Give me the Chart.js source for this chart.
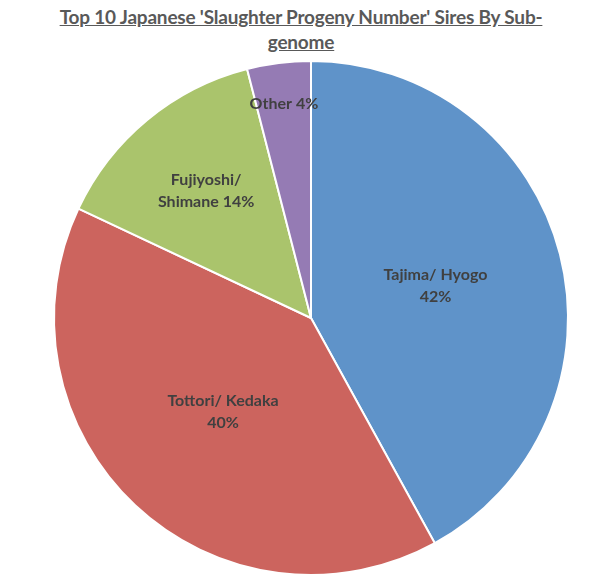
<!DOCTYPE html>
<html><head><meta charset="utf-8">
<script src="https://cdn.jsdelivr.net/npm/chart.js@4"></script>
<style>
body{margin:0;background:#fff;width:602px;height:584px;overflow:hidden;position:relative}
#t{position:absolute;top:4px;left:0;width:602px;text-align:center;font:bold 19px Lato,"Open Sans",sans-serif;color:#595959;text-decoration:underline;line-height:25px;letter-spacing:-0.2px}
#w{position:absolute;top:0;left:0;width:602px;height:584px}
</style></head><body>
<div id="t">Top 10 Japanese 'Slaughter Progeny Number' Sires By Sub-<br>genome</div>
<div id="w"><canvas id="c"></canvas></div>
<script>
const categories=["Tajima/ Hyogo","Tottori/ Kedaka","Fujiyoshi/ Shimane","Other"];
const labelLines=[["Tajima/ Hyogo","42%"],["Tottori/ Kedaka","40%"],["Fujiyoshi/","Shimane 14%"],["Other 4%"]];
const values=[42,40,14,4];
const colors=["#5F93C9","#CC645E","#AAC46C","#957BB4"];
const labelRadius=[0.5,0.5,0.64,0.84];
const lbl={id:'lbl',afterDatasetsDraw(ch){
  const ctx=ch.ctx;const meta=ch.getDatasetMeta(0);
  ctx.save();ctx.font='bold 16px Lato,"Open Sans",sans-serif';ctx.fillStyle='#404040';ctx.textAlign='center';ctx.textBaseline='middle';
  meta.data.forEach((a,i)=>{
    const p=a.getProps(['x','y','startAngle','endAngle','outerRadius']);
    const m=(p.startAngle+p.endAngle)/2, r=p.outerRadius*labelRadius[i];
    const x=p.x+Math.cos(m)*r, y=p.y+Math.sin(m)*r;
    const L=labelLines[i];
    L.forEach((s,j)=>ctx.fillText(s,x,y+(j-(L.length-1)/2)*22));
  });ctx.restore();}};
new Chart(document.getElementById('c'),{type:'pie',
 data:{labels:categories,datasets:[{data:values,backgroundColor:colors,borderColor:'#fff',borderWidth:2}]},
 options:{responsive:true,maintainAspectRatio:false,animation:false,
  layout:{padding:{top:60,bottom:8,left:20,right:0}},
  plugins:{legend:{display:false},tooltip:{enabled:false}}},
 plugins:[lbl]});
</script></body></html>
